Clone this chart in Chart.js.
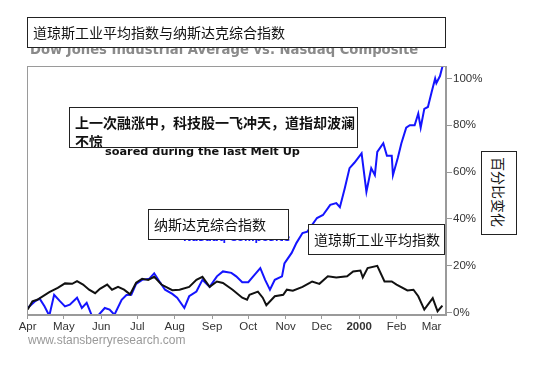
<!DOCTYPE html>
<html>
<head>
<meta charset="utf-8">
<script src="https://cdn.jsdelivr.net/npm/chart.js@4/dist/chart.umd.min.js"></script>
<style>
  body { margin: 0; background: #fff; }
  #wrap { position: relative; width: 550px; height: 376px; overflow: hidden; }
  #chart { position: absolute; left: 0; top: 0; }
  .txt { position: absolute; white-space: nowrap; }
  .box { position: absolute; background: #fff; border: 1px solid #222; box-sizing: border-box;
         font-family: "Noto Sans CJK SC", sans-serif; color: #111; overflow: hidden; }
</style>
</head>
<body>
<div id="wrap">
  <canvas id="chart" width="550" height="376"></canvas>

  <div class="txt" style="left:30px;top:42px;font:bold 13.2px 'DejaVu Sans';color:#8a8a8a;">Dow Jones Industrial Average vs. Nasdaq Composite</div>
  <div class="txt" style="left:105px;top:145px;font:bold 11.3px 'DejaVu Sans';color:#111;">soared during the last Melt Up</div>
  <div class="txt" style="left:183px;top:232px;font:bold 10.2px 'DejaVu Sans';color:#1a1aff;">Nasdaq Composite</div>

  <div class="box" style="left:27px;top:17px;width:419px;height:31px;font-size:14px;line-height:29px;padding-left:5px;">道琼斯工业平均指数与纳斯达克综合指数</div>
  <div class="box" style="left:69px;top:107px;width:289px;height:41px;font-size:14px;font-weight:bold;line-height:19px;padding:5px 0 0 5px;white-space:normal;">上一次融涨中，科技股一飞冲天，道指却波澜不惊</div>
  <div class="box" style="left:148px;top:209px;width:141px;height:31px;font-size:14px;line-height:29px;padding-left:5px;">纳斯达克综合指数</div>
  <div class="box" style="left:308px;top:224px;width:137px;height:31px;font-size:14px;line-height:29px;padding-left:5px;">道琼斯工业平均指数</div>
  <div class="box" style="left:481px;top:151px;width:36px;height:84px;font-size:14px;writing-mode:vertical-rl;text-orientation:sideways;line-height:34px;padding-top:5px;">百分比变化</div>

  <div class="txt" style="left:28px;top:333px;font:12px 'Liberation Sans';color:#999;">www.stansberryresearch.com</div>
</div>
<script>
// days counted from 1 Apr 1999
const tickDays = [0, 30, 61, 91, 122, 153, 183, 214, 244, 275, 306, 335];
const tickLabels = ['Apr', 'May', 'Jun', 'Jul', 'Aug', 'Sep', 'Oct', 'Nov', 'Dec', '2000', 'Feb', 'Mar'];
const yTicks = [0, 20, 40, 60, 80, 100];

const dowDays = [0, 4, 8, 18, 25, 31, 37, 41, 46, 51, 56, 60, 66, 70, 75, 80, 85, 90, 95, 100,
  105, 111, 120, 126, 134, 140, 145, 151, 157, 162, 170, 178, 182, 184, 191, 195, 198, 205, 212, 215,
  220, 228, 234, 236, 242, 249, 256, 265, 270, 276, 278, 282, 290, 296, 302, 306, 315, 320, 324, 329,
  336, 340, 344];
const dowValues = [1.3, 4.8, 5.5, 8.8, 10.6, 12.5, 12.3, 13.5, 12, 9.8, 8.3, 10.2, 12, 9.8, 11, 9.8, 7.8, 12.8, 14.5, 14,
  15.3, 12, 9.6, 9.8, 11, 14, 15.3, 11, 13.3, 12.7, 9.8, 6.4, 5.5, 7.6, 9, 6.4, 3.2, 7, 7.6, 9.8,
  9.4, 11, 12.7, 13.3, 12.3, 15.5, 15, 15.5, 17.6, 18, 15, 19, 20, 13.3, 13.3, 12, 9.5, 9.8, 7, 1.3,
  6.2, 0.6, 3];

const nasdaqDays = [0, 6, 10, 14, 18, 22, 27, 31, 35, 41, 45, 49, 53, 58, 64, 68, 72, 78, 82, 86,
  90, 95, 101, 105, 110, 114, 120, 124, 130, 134, 140, 145, 151, 157, 162, 169, 173, 178, 183, 188,
  193, 197, 201, 205, 211, 213, 219, 223, 228, 232, 240, 245, 251, 256, 259, 263, 267, 271, 277, 281,
  285, 288, 290, 295, 298, 302, 303, 307, 310, 314, 317, 321, 324, 326, 329, 332, 335, 338, 339, 342,
  344];
const nasdaqValues = [2, 4.8, 6, 2.7, -1.3, 7.6, 4.8, 2.7, 3.4, 6.4, 2, 4.2, -0.9, -1.5, 2, 1.3, -0.9, 5.5, 7.5, 7.6,
  12.3, 14, 14.5, 16.8, 12.8, 9.8, 8, 6.4, 2, 7, 9, 14, 11, 15.5, 17.6, 17, 15.5, 13, 13, 16,
  19, 14, 9.8, 14, 15.5, 21, 25.5, 29.8, 34, 34.6, 40.4, 41.7, 46, 46.8, 45, 53, 61.7, 64, 68, 51.6,
  61.7, 58.7, 68.6, 72.3, 67, 67, 58.7, 66, 72.3, 79, 80, 80, 85, 79, 87, 87.8, 94, 100, 98, 101,
  105];

const toPoints = (xs, ys) => xs.map((x, i) => ({ x, y: ys[i] }));

const frame = {
  id: 'frame',
  afterDatasetsDraw(chart) {
    const { ctx, chartArea: a } = chart;
    ctx.save();
    ctx.strokeStyle = '#9a9a9a';
    ctx.lineWidth = 1;
    ctx.strokeRect(a.left + 0.5, a.top + 0.5, a.right - a.left - 1, a.bottom - a.top - 1);
    ctx.restore();
  }
};

new Chart(document.getElementById('chart'), {
  type: 'line',
  data: {
    datasets: [
      { label: 'Dow Jones Industrial Average', data: toPoints(dowDays, dowValues),
        borderColor: '#111', borderWidth: 2, pointRadius: 0, tension: 0 },
      { label: 'Nasdaq Composite', data: toPoints(nasdaqDays, nasdaqValues),
        borderColor: '#1414ff', borderWidth: 2, pointRadius: 0, tension: 0 },
    ],
  },
  plugins: [frame],
  options: {
    responsive: false,
    animation: false,
    layout: { padding: { left: 27, top: 66, right: 0, bottom: 31 } },
    plugins: { legend: { display: false }, tooltip: { enabled: false } },
    scales: {
      x: {
        type: 'linear', min: -0.5, max: 347,
        afterBuildTicks: s => { s.ticks = tickDays.map(v => ({ value: v })); },
        afterFit: s => { s.height = 30; },
        grid: { drawOnChartArea: false, tickLength: 4, color: '#9a9a9a' },
        border: { color: '#9a9a9a' },
        ticks: {
          padding: 1, color: '#333', maxRotation: 0, autoSkip: false,
          font: ctx => ({ family: 'Liberation Sans', size: 11.5,
            weight: ctx.tick && ctx.tick.value === 275 ? 'bold' : 'normal' }),
          callback: v => tickLabels[tickDays.indexOf(v)],
        },
      },
      y: {
        position: 'right', min: -1, max: 105.3,
        afterBuildTicks: s => { s.ticks = yTicks.map(v => ({ value: v })); },
        afterFit: s => { s.width = 104; },
        grid: { drawOnChartArea: false, tickLength: 6, color: '#9a9a9a' },
        border: { color: '#9a9a9a' },
        ticks: { padding: 1, color: '#333', font: { family: 'Liberation Sans', size: 11.5 },
          callback: v => v + '%' },
      },
    },
  },
});
</script>
</body>
</html>
